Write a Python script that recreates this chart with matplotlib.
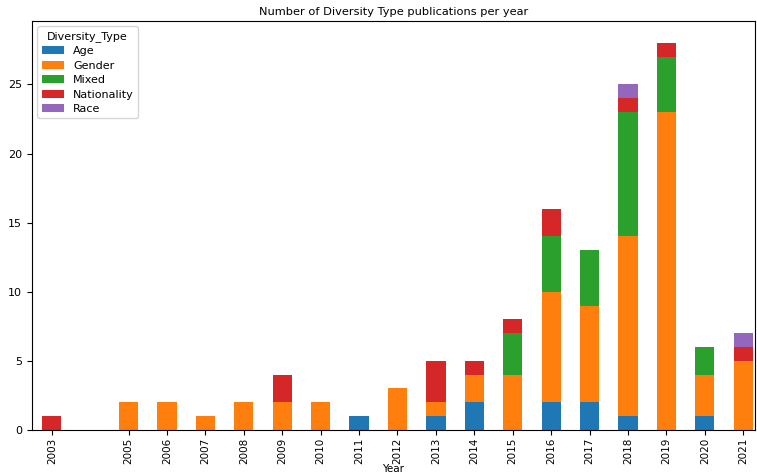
import matplotlib

matplotlib.use("Agg")
import matplotlib.pyplot as plt
import numpy as np

years = [2003, 2005, 2006, 2007, 2008, 2009, 2010, 2011, 2012, 2013,
         2014, 2015, 2016, 2017, 2018, 2019, 2020, 2021]
types = ["Age", "Gender", "Mixed", "Nationality", "Race"]
age = [0, 0, 0, 0, 0, 0, 0, 1, 0, 1, 2, 0, 2, 2, 1, 0, 1, 0]
gender = [0, 2, 2, 1, 2, 2, 2, 0, 3, 1, 2, 4, 8, 7, 13, 23, 3, 5]
mixed = [0, 0, 0, 0, 0, 0, 0, 0, 0, 0, 0, 3, 4, 4, 9, 4, 2, 0]
nationality = [1, 0, 0, 0, 0, 2, 0, 0, 0, 3, 1, 1, 2, 0, 1, 1, 0, 1]
race = [0, 0, 0, 0, 0, 0, 0, 0, 0, 0, 0, 0, 0, 0, 1, 0, 0, 1]
colors = ["#1f77b4", "#ff7f0e", "#2ca02c", "#d62728", "#9467bd"]

fig = plt.figure(figsize=(7.57, 4.74), dpi=100)
ax = fig.add_axes([0.042, 0.093, 0.955, 0.863])

bottom = np.zeros(len(years))
for name, vals, c in zip(types, [age, gender, mixed, nationality, race], colors):
    ax.bar(years, vals, 0.5, bottom=bottom, color=c, label=name)
    bottom += np.array(vals)

ax.set_xticks(years)
ax.set_xticklabels([str(y) for y in years], rotation=90, fontsize=7.5)
ax.tick_params(axis="x", pad=2)
ax.tick_params(axis="y", labelsize=8)
ax.set_xlim(2002.48, 2021.3)
ax.set_ylim(0, 29.6)
ax.set_xlabel("Year", fontsize=7.5, labelpad=0)
ax.set_title("Number of Diversity Type publications per year", fontsize=8.2, pad=4)
ax.legend(title="Diversity_Type", fontsize=8, title_fontsize=8,
          loc="upper left", labelspacing=0.4)

fig.savefig("out.png")
